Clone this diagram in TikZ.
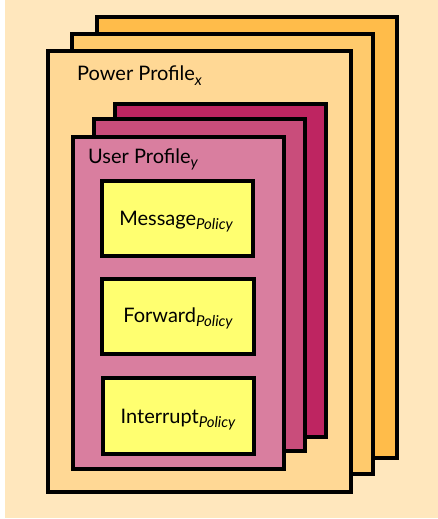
\documentclass[tikz,border=0pt]{standalone}
\usepackage{fontspec}
\setmainfont{Lato}
\definecolor{bgbeige}{HTML}{FFE7BD}
\definecolor{powA}{HTML}{FFBC4A}
\definecolor{powB}{HTML}{FFCA6C}
\definecolor{powC}{HTML}{FFD895}
\definecolor{usrA}{HTML}{BE2561}
\definecolor{usrB}{HTML}{C94D7B}
\definecolor{usrC}{HTML}{D97E9F}
\definecolor{policyyellow}{HTML}{FFFF70}
\newcommand{\lowsub}[1]{\raisebox{-0.45ex}{\fontsize{15}{15}\selectfont\itshape #1}}
\tikzset{
  sheet/.style={draw=black, line width=3.3pt, inner sep=0pt, outer sep=0pt},
  caption/.style={anchor=base west, inner sep=0pt, font=\fontsize{20}{24}\selectfont},
  policytext/.style={anchor=base, inner sep=0pt, font=\fontsize{20}{24}\selectfont}
}
% sheet from two corners
\newcommand{\sheetbox}[6]{%
  \node[sheet, fill=#2, anchor=north west,
        minimum width={(#5-#3)*1pt}, minimum height={(#6-#4)*1pt}] (#1) at (#3,#4) {};}
\begin{document}
\begin{tikzpicture}[x=1pt,y=-1pt]
\useasboundingbox (0,0) rectangle (438,519);
\fill[bgbeige] (5,0) rectangle (438,518);

% power profile stack
\sheetbox{powback}{powA}{97}{17}{397}{458}
\sheetbox{powmid}{powB}{72}{34}{373}{474}
\sheetbox{powfront}{powC}{48}{51}{351}{492}
\node[caption] (powlabel) at (77,81) {Power Profile\lowsub{x}};

% user profile stack
\sheetbox{usrback}{usrA}{115}{104}{326}{437}
\sheetbox{usrmid}{usrB}{94}{119}{305}{451}
\sheetbox{usrfront}{usrC}{73}{137}{284}{469}
\node[caption] (usrlabel) at (88,163) {User Profile\lowsub{y}};

% policies
\sheetbox{msgbox}{policyyellow}{102}{181}{253}{256}
\sheetbox{fwdbox}{policyyellow}{102}{279}{254}{354}
\sheetbox{intbox}{policyyellow}{103}{378}{254}{454}
\node[policytext] (msgtext) at (176,225) {Message\lowsub{Policy}};
\node[policytext] (fwdtext) at (178,322) {Forward\lowsub{Policy}};
\node[policytext] (inttext) at (178,423) {Interrupt\lowsub{Policy}};
\end{tikzpicture}
\end{document}
